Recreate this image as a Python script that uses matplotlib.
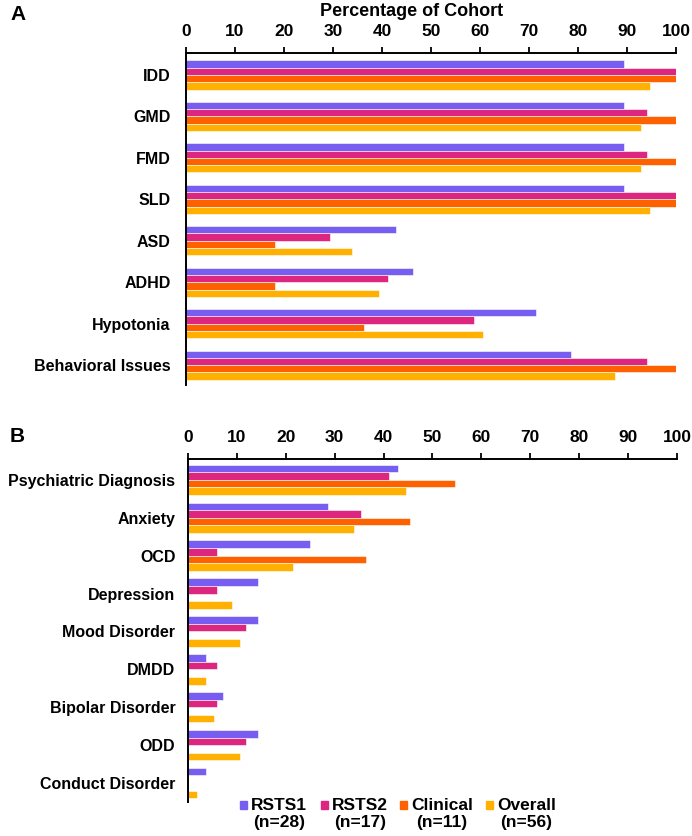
import matplotlib.pyplot as plt
from matplotlib.patches import Rectangle

plt.rcParams['font.family'] = ['Liberation Sans', 'DejaVu Sans']
plt.rcParams['font.weight'] = 'bold'

series = ['RSTS1', 'RSTS2', 'Clinical', 'Overall']
n_sizes = [28, 17, 11, 56]
colors = ['#785EF0', '#DC267F', '#FE6100', '#FFB000']

cats_a = ['IDD', 'GMD', 'FMD', 'SLD', 'ASD', 'ADHD', 'Hypotonia', 'Behavioral Issues']
rsts1_a = [89.3, 89.3, 89.3, 89.3, 42.9, 46.4, 71.4, 78.6]
rsts2_a = [100, 94.1, 94.1, 100, 29.4, 41.2, 58.8, 94.1]
clin_a = [100, 100, 100, 100, 18.2, 18.2, 36.4, 100]
overall_a = [94.6, 92.9, 92.9, 94.6, 33.9, 39.3, 60.7, 87.5]

cats_b = ['Psychiatric Diagnosis', 'Anxiety', 'OCD', 'Depression', 'Mood Disorder',
          'DMDD', 'Bipolar Disorder', 'ODD', 'Conduct Disorder']
rsts1_b = [42.9, 28.6, 25.0, 14.3, 14.3, 3.6, 7.1, 14.3, 3.6]
rsts2_b = [41.2, 35.3, 5.9, 5.9, 11.8, 5.9, 5.9, 11.8, 0]
clin_b = [54.5, 45.5, 36.4, 0, 0, 0, 0, 0, 0]
overall_b = [44.6, 33.9, 21.4, 8.9, 10.7, 3.6, 5.4, 10.7, 1.8]

W, H = 692, 836
fig = plt.figure(figsize=(W / 100, H / 100), dpi=100)


def px_axes(x0, y0, x1, y1):
    return fig.add_axes([x0 / W, 1 - y1 / H, (x1 - x0) / W, (y1 - y0) / H])


def draw_panel(ax, cats, data, bh, ylim, ypad):
    for k, (vals, c) in enumerate(zip(data, colors)):
        pos = [i - 1.5 * bh + k * bh for i in range(len(cats))]
        ax.barh(pos, vals, height=bh, color=c, edgecolor='white', linewidth=0.4)
    ax.set_xlim(0, 100)
    ax.set_ylim(*ylim)
    ax.set_xticks(range(0, 101, 10))
    ax.set_yticks(range(len(cats)))
    ax.set_yticklabels(cats, fontsize=11.5, fontweight='bold')
    ax.xaxis.tick_top()
    ax.tick_params(axis='x', direction='out', length=4, width=1.3, labelsize=12.5, pad=6)
    ax.tick_params(axis='y', length=0, pad=ypad)
    for lab in ax.get_xticklabels():
        lab.set_fontweight('bold')
    for s in ['right', 'bottom']:
        ax.spines[s].set_visible(False)
    ax.spines['top'].set_linewidth(1.4)
    ax.spines['left'].set_linewidth(1.4)


ax_a = px_axes(186, 53, 676, 385)
draw_panel(ax_a, cats_a, [rsts1_a, rsts2_a, clin_a, overall_a], 0.176, (7.48, -0.53), 11)

ax_b = px_axes(188, 459, 677, 802)
draw_panel(ax_b, cats_b, [rsts1_b, rsts2_b, clin_b, overall_b], 0.2, (8.5, -0.55), 9)

fig.text(412 / W, 1 - 12 / H, 'Percentage of Cohort', ha='center', va='center',
         fontsize=13, fontweight='bold')
fig.text(10 / W, 1 - 15 / H, 'A', ha='left', va='center', fontsize=15, fontweight='bold')
fig.text(10 / W, 1 - 437 / H, 'B', ha='left', va='center', fontsize=15, fontweight='bold')

# legend drawn by hand so the squares sit on the first text line
sq_x = [240, 321, 400, 486]
for name, n, c, x in zip(series, n_sizes, colors, sq_x):
    fig.patches.append(Rectangle((x / W, 1 - 809 / H), 7 / W, 8 / H, color=c,
                                 transform=fig.transFigure, figure=fig))
    t = fig.text((x + 11) / W, 1 - 805 / H, name, ha='left', va='center',
                 fontsize=12.5, fontweight='bold')
    fig.canvas.draw()
    bb = t.get_window_extent()
    cx = (bb.x0 + bb.x1) / 2 / W
    fig.text(cx, 1 - 823 / H, '(n=%d)' % n, ha='center', va='center',
             fontsize=12.5, fontweight='bold')

plt.savefig('out.png', dpi=100)
